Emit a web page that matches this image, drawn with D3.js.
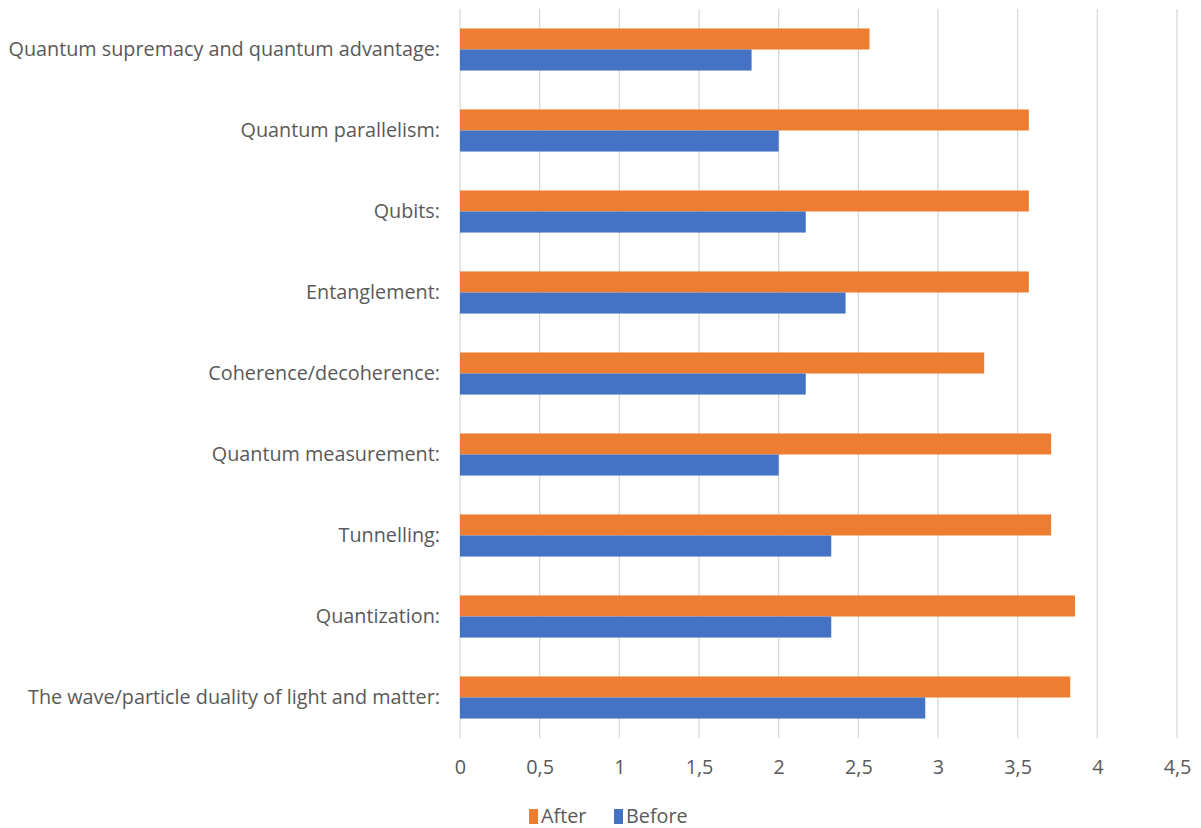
<!DOCTYPE html>
<html>
<head>
<meta charset="utf-8">
<script src="https://cdn.jsdelivr.net/npm/d3@7"></script>
<style>
  body { margin: 0; background: #fff; }
  text { font-family: "Open Sans", sans-serif; fill: #595959; }
</style>
</head>
<body>
<script>
// Chart data
var categories = [
  "Quantum supremacy and quantum advantage:",
  "Quantum parallelism:",
  "Qubits:",
  "Entanglement:",
  "Coherence/decoherence:",
  "Quantum measurement:",
  "Tunnelling:",
  "Quantization:",
  "The wave/particle duality of light and matter:"
];
var afterValues = [2.57, 3.57, 3.57, 3.57, 3.29, 3.71, 3.71, 3.86, 3.83];
var beforeValues = [1.83, 2.0, 2.17, 2.42, 2.17, 2.0, 2.33, 2.33, 2.92];
var seriesNames = ["After", "Before"];
var seriesColors = ["#ED7D31", "#4472C4"];
var xTicks = [0, 0.5, 1, 1.5, 2, 2.5, 3, 3.5, 4, 4.5];

// Chart params
var svgWidth = 1201;
var svgHeight = 828;
var margin = { top: 9, right: 24, bottom: 90, left: 460 };
var width = svgWidth - margin.left - margin.right;
var height = svgHeight - margin.top - margin.bottom;

var svg = d3.select("body")
  .append("svg")
  .attr("width", svgWidth)
  .attr("height", svgHeight);

var chartGroup = svg.append("g")
  .attr("transform", `translate(${margin.left}, ${margin.top})`);

var x = d3.scaleLinear().domain([0, 4.5]).range([0, width]);
var y = d3.scaleBand().domain(categories).range([0, height]).paddingInner(0.48).paddingOuter(0.24);
var ySub = d3.scaleBand().domain(seriesNames).range([0, y.bandwidth()]);

// gridlines
chartGroup.selectAll(".grid")
  .data(xTicks)
  .enter()
  .append("line")
  .attr("x1", d => x(d))
  .attr("x2", d => x(d))
  .attr("y1", 0)
  .attr("y2", height)
  .attr("stroke", "#d9d9d9")
  .attr("stroke-width", 1.3);

// rows
var rows = categories.map((c, i) => ({ cat: c, vals: [afterValues[i], beforeValues[i]] }));

var groups = chartGroup.selectAll(".row")
  .data(rows)
  .enter()
  .append("g")
  .attr("transform", d => `translate(0, ${y(d.cat)})`);

groups.selectAll("rect")
  .data(d => d.vals.map((v, j) => ({ name: seriesNames[j], value: v, color: seriesColors[j] })))
  .enter()
  .append("rect")
  .attr("x", x(0))
  .attr("y", d => ySub(d.name))
  .attr("width", d => x(d.value) - x(0))
  .attr("height", ySub.bandwidth())
  .attr("fill", d => d.color);

// y axis labels
var yAxis = d3.axisLeft(y).tickSize(0).tickPadding(20);
var yG = chartGroup.append("g").call(yAxis);
yG.select(".domain").remove();
yG.selectAll("text").style("font-size", "19.8px").style("font-family", "'Open Sans', sans-serif").attr("fill", "#595959");

// x axis labels
var xAxis = d3.axisBottom(x).tickValues(xTicks).tickSize(0).tickPadding(22)
  .tickFormat(d => String(d).replace(".", ","));
var xG = chartGroup.append("g").attr("transform", `translate(0, ${height})`).call(xAxis);
xG.select(".domain").remove();
xG.selectAll("text").style("font-size", "19.8px").style("font-family", "'Open Sans', sans-serif").attr("fill", "#595959");

// legend
var legend = svg.append("g").attr("transform", "translate(529, 808)");
var legendX = [0, 85];
seriesNames.forEach((name, i) => {
  var g = legend.append("g").attr("transform", `translate(${legendX[i]}, 0)`);
  g.append("rect").attr("x", 0).attr("y", 1).attr("width", 9).attr("height", 15).attr("fill", seriesColors[i]);
  g.append("text").attr("x", 12).attr("y", 15).style("font-size", "19.8px").text(name);
});
</script>
</body>
</html>
